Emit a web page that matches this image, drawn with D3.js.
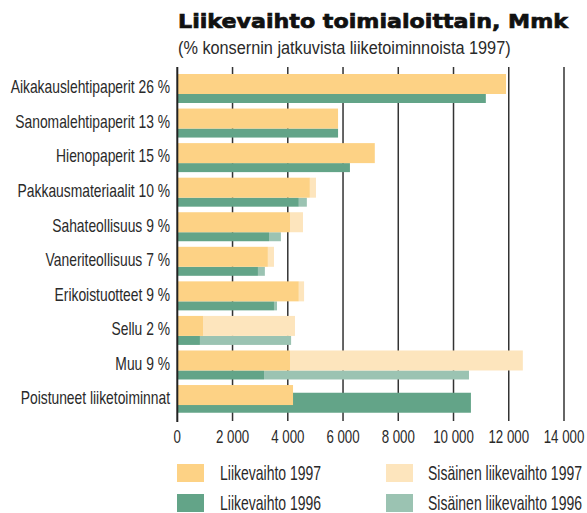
<!DOCTYPE html>
<html>
<head>
  <meta charset="utf-8">
  <style>
  body { margin: 0; background: #fff; }
  text { font-family: "Liberation Sans", Arial, sans-serif; fill: #2a2a2a; }
  </style>
  <script src="https://cdn.jsdelivr.net/npm/d3@7"></script>
</head>
<body>
  <script>
  var categories = ["Aikakauslehtipaperit 26 %", "Sanomalehtipaperit 13 %", "Hienopaperit 15 %",
    "Pakkausmateriaalit 10 %", "Sahateollisuus 9 %", "Vaneriteollisuus 7 %", "Erikoistuotteet 9 %",
    "Sellu 2 %", "Muu 9 %", "Poistuneet liiketoiminnat"];
  // external turnover and internal turnover, Mmk
  var ext1997 = [11900, 5820, 7150, 4800, 4080, 3280, 4400, 930, 4080, 4190];
  var int1997 = [0, 0, 0, 220, 470, 220, 190, 3330, 8430, 0];
  var ext1996 = [11170, 5820, 6250, 4400, 3320, 2920, 3500, 820, 3140, 10630];
  var int1996 = [0, 0, 0, 290, 430, 250, 110, 3300, 7420, 0];
  var xTicks = [0, 2000, 4000, 6000, 8000, 10000, 12000, 14000];
  var legendKeys = ["Liikevaihto 1997", "Liikevaihto 1996", "Sisäinen liikevaihto 1997", "Sisäinen liikevaihto 1996"];

  var canvasWidth = 587;
  var canvasHeight = 513;

  var colors = {
    "Liikevaihto 1997": "#fdd285",
    "Liikevaihto 1996": "#63a488",
    "Sisäinen liikevaihto 1997": "#fde5bd",
    "Sisäinen liikevaihto 1996": "#9bc3b2"
  };

  var svg = d3.select("body")
    .append("svg")
    .attr("width", canvasWidth)
    .attr("height", canvasHeight);

  var x = d3.scaleLinear()
    .domain([0, 14000])
    .range([177.3, 564]);

  var y = d3.scaleBand()
    .domain(categories)
    .range([74, 74 + 34.56 * categories.length])
    .paddingInner(0);

  var gridTop = 67, gridBottom = 421;

  // condensed look: squeeze the text horizontally around its anchor
  function place(px, py, sx) {
    return "translate(" + px + "," + py + ") scale(" + sx + ",1)";
  }

  // title
  svg.append("text")
    .attr("x", 178)
    .attr("y", 28)
    .attr("textLength", 390)
    .attr("lengthAdjust", "spacingAndGlyphs")
    .style("font-family", "'DejaVu Sans', sans-serif")
    .style("font-weight", "bold")
    .style("font-size", "20px")
    .style("fill", "#111")
    .style("stroke", "#111")
    .style("stroke-width", 0.7)
    .text("Liikevaihto toimialoittain, Mmk");

  svg.append("text")
    .attr("transform", place(178, 53.5, 0.88))
    .style("font-size", "18.5px")
    .text("(% konsernin jatkuvista liiketoiminnoista 1997)");

  // grid lines
  svg.append("g")
    .selectAll("line")
    .data(xTicks.slice(1))
    .enter().append("line")
    .attr("x1", function(d) { return x(d); })
    .attr("x2", function(d) { return x(d); })
    .attr("y1", gridTop)
    .attr("y2", gridBottom)
    .attr("stroke", "#333")
    .attr("stroke-width", 1.5);

  // bars
  var rows = categories.map(function(c, i) {
    return { cat: c, e97: ext1997[i], i97: int1997[i], e96: ext1996[i], i96: int1996[i] };
  });

  var last = categories[categories.length - 1];
  var bars = svg.append("g");

  rows.forEach(function(d) {
    var top = y(d.cat);
    var g = bars.append("g");
    var y96 = d.cat === last ? top + 7.7 : top + 20;
    var h96 = d.cat === last ? 20 : 9;
    // 1996 first so the 1997 bar sits on top
    g.append("rect")
      .attr("x", x(0)).attr("y", y96)
      .attr("width", x(d.e96) - x(0)).attr("height", h96)
      .attr("fill", colors["Liikevaihto 1996"]);
    if (d.i96 > 0) g.append("rect")
      .attr("x", x(d.e96)).attr("y", y96)
      .attr("width", x(d.e96 + d.i96) - x(d.e96)).attr("height", h96)
      .attr("fill", colors["Sisäinen liikevaihto 1996"]);
    g.append("rect")
      .attr("x", x(0)).attr("y", top)
      .attr("width", x(d.e97) - x(0)).attr("height", 20)
      .attr("fill", colors["Liikevaihto 1997"]);
    if (d.i97 > 0) g.append("rect")
      .attr("x", x(d.e97)).attr("y", top)
      .attr("width", x(d.e97 + d.i97) - x(d.e97)).attr("height", 20)
      .attr("fill", colors["Sisäinen liikevaihto 1997"]);
  });

  // zero axis
  svg.append("line")
    .attr("x1", x(0)).attr("x2", x(0))
    .attr("y1", gridTop).attr("y2", gridBottom + 1)
    .attr("stroke", "#222")
    .attr("stroke-width", 2);

  // category labels
  svg.append("g")
    .selectAll("text")
    .data(categories)
    .enter().append("text")
    .attr("transform", function(d) { return place(170, y(d) + 13, 0.77); })
    .attr("dy", "0.35em")
    .attr("text-anchor", "end")
    .style("font-size", "18px")
    .text(function(d) { return d; });

  // x tick labels
  svg.append("g")
    .selectAll("text")
    .data(xTicks)
    .enter().append("text")
    .attr("transform", function(d) { return place(x(d), 443, 0.76); })
    .attr("text-anchor", "middle")
    .style("font-size", "17.5px")
    .text(function(d) { return d3.format(",")(d).replace(/,/g, " "); });

  // legend
  var legend = svg.append("g")
    .selectAll("g")
    .data(legendKeys)
    .enter().append("g")
    .attr("transform", function(d, i) {
      return "translate(" + (i < 2 ? 177 : 386) + "," + (464 + (i % 2) * 30) + ")";
    });

  legend.append("rect")
    .attr("width", 27)
    .attr("height", 18)
    .attr("fill", function(d) { return colors[d]; });

  legend.append("text")
    .attr("transform", function(d, i) { return place(i < 2 ? 43 : 42, 9, 0.7); })
    .attr("dy", "0.36em")
    .style("font-size", "20px")
    .text(function(d) { return d; });
  </script>
</body>
</html>
